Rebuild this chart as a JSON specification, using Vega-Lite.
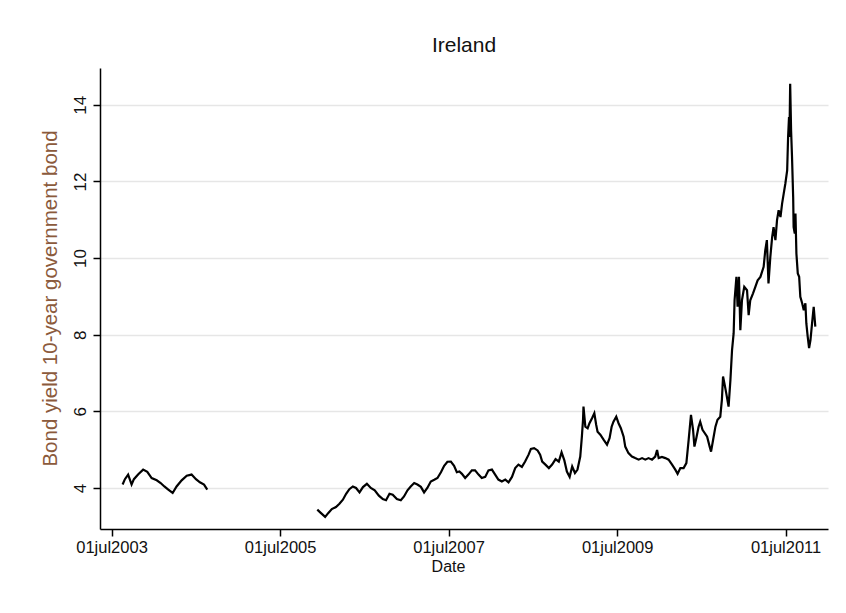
{
  "$schema": "https://vega.github.io/schema/vega-lite/v6.json",
  "width": 728,
  "height": 461,
  "autosize": {"type": "none"},
  "padding": {"left": 100, "top": 68, "right": 18, "bottom": 84},
  "background": "white",
  "title": {"text": "Ireland", "anchor": "middle", "frame": "group", "offset": 12, "font": "Liberation Sans", "fontSize": 21, "fontWeight": "normal", "color": "#111111"},
  "config": {"view": {"stroke": null}, "font": "Liberation Sans"},
  "data": {"values": [
    {"date": "2003-08-18", "y": 4.09, "seg": 1},
    {"date": "2003-08-28", "y": 4.23, "seg": 1},
    {"date": "2003-09-11", "y": 4.35, "seg": 1},
    {"date": "2003-09-26", "y": 4.09, "seg": 1},
    {"date": "2003-10-06", "y": 4.23, "seg": 1},
    {"date": "2003-10-25", "y": 4.36, "seg": 1},
    {"date": "2003-11-15", "y": 4.48, "seg": 1},
    {"date": "2003-12-03", "y": 4.42, "seg": 1},
    {"date": "2003-12-22", "y": 4.26, "seg": 1},
    {"date": "2004-01-13", "y": 4.2, "seg": 1},
    {"date": "2004-01-30", "y": 4.13, "seg": 1},
    {"date": "2004-02-15", "y": 4.04, "seg": 1},
    {"date": "2004-03-03", "y": 3.96, "seg": 1},
    {"date": "2004-03-22", "y": 3.87, "seg": 1},
    {"date": "2004-04-08", "y": 4.04, "seg": 1},
    {"date": "2004-04-30", "y": 4.2, "seg": 1},
    {"date": "2004-05-22", "y": 4.32, "seg": 1},
    {"date": "2004-06-12", "y": 4.35, "seg": 1},
    {"date": "2004-07-01", "y": 4.23, "seg": 1},
    {"date": "2004-07-18", "y": 4.15, "seg": 1},
    {"date": "2004-08-05", "y": 4.09, "seg": 1},
    {"date": "2004-08-19", "y": 3.96, "seg": 1},
    {"date": "2005-12-09", "y": 3.435, "seg": 2},
    {"date": "2005-12-24", "y": 3.35, "seg": 2},
    {"date": "2006-01-12", "y": 3.245, "seg": 2},
    {"date": "2006-01-26", "y": 3.35, "seg": 2},
    {"date": "2006-02-10", "y": 3.45, "seg": 2},
    {"date": "2006-02-28", "y": 3.505, "seg": 2},
    {"date": "2006-03-15", "y": 3.59, "seg": 2},
    {"date": "2006-03-30", "y": 3.695, "seg": 2},
    {"date": "2006-04-13", "y": 3.85, "seg": 2},
    {"date": "2006-04-27", "y": 3.97, "seg": 2},
    {"date": "2006-05-12", "y": 4.04, "seg": 2},
    {"date": "2006-05-26", "y": 4.0, "seg": 2},
    {"date": "2006-06-10", "y": 3.885, "seg": 2},
    {"date": "2006-06-25", "y": 4.025, "seg": 2},
    {"date": "2006-07-12", "y": 4.11, "seg": 2},
    {"date": "2006-07-29", "y": 4.0, "seg": 2},
    {"date": "2006-08-15", "y": 3.94, "seg": 2},
    {"date": "2006-09-02", "y": 3.8, "seg": 2},
    {"date": "2006-09-19", "y": 3.71, "seg": 2},
    {"date": "2006-10-03", "y": 3.68, "seg": 2},
    {"date": "2006-10-18", "y": 3.85, "seg": 2},
    {"date": "2006-11-01", "y": 3.825, "seg": 2},
    {"date": "2006-11-19", "y": 3.71, "seg": 2},
    {"date": "2006-12-06", "y": 3.68, "seg": 2},
    {"date": "2006-12-20", "y": 3.78, "seg": 2},
    {"date": "2007-01-04", "y": 3.94, "seg": 2},
    {"date": "2007-01-18", "y": 4.04, "seg": 2},
    {"date": "2007-02-02", "y": 4.13, "seg": 2},
    {"date": "2007-02-16", "y": 4.09, "seg": 2},
    {"date": "2007-03-03", "y": 4.03, "seg": 2},
    {"date": "2007-03-17", "y": 3.885, "seg": 2},
    {"date": "2007-03-31", "y": 4.0, "seg": 2},
    {"date": "2007-04-15", "y": 4.17, "seg": 2},
    {"date": "2007-04-30", "y": 4.215, "seg": 2},
    {"date": "2007-05-14", "y": 4.26, "seg": 2},
    {"date": "2007-05-29", "y": 4.41, "seg": 2},
    {"date": "2007-06-12", "y": 4.58, "seg": 2},
    {"date": "2007-06-26", "y": 4.685, "seg": 2},
    {"date": "2007-07-11", "y": 4.69, "seg": 2},
    {"date": "2007-07-25", "y": 4.58, "seg": 2},
    {"date": "2007-08-06", "y": 4.41, "seg": 2},
    {"date": "2007-08-17", "y": 4.43, "seg": 2},
    {"date": "2007-08-28", "y": 4.37, "seg": 2},
    {"date": "2007-09-11", "y": 4.26, "seg": 2},
    {"date": "2007-09-25", "y": 4.35, "seg": 2},
    {"date": "2007-10-10", "y": 4.46, "seg": 2},
    {"date": "2007-10-24", "y": 4.46, "seg": 2},
    {"date": "2007-11-08", "y": 4.35, "seg": 2},
    {"date": "2007-11-22", "y": 4.26, "seg": 2},
    {"date": "2007-12-07", "y": 4.29, "seg": 2},
    {"date": "2007-12-21", "y": 4.46, "seg": 2},
    {"date": "2008-01-05", "y": 4.48, "seg": 2},
    {"date": "2008-01-19", "y": 4.35, "seg": 2},
    {"date": "2008-02-02", "y": 4.22, "seg": 2},
    {"date": "2008-02-17", "y": 4.17, "seg": 2},
    {"date": "2008-03-03", "y": 4.22, "seg": 2},
    {"date": "2008-03-17", "y": 4.15, "seg": 2},
    {"date": "2008-04-01", "y": 4.29, "seg": 2},
    {"date": "2008-04-15", "y": 4.52, "seg": 2},
    {"date": "2008-04-29", "y": 4.61, "seg": 2},
    {"date": "2008-05-14", "y": 4.55, "seg": 2},
    {"date": "2008-05-28", "y": 4.69, "seg": 2},
    {"date": "2008-06-12", "y": 4.87, "seg": 2},
    {"date": "2008-06-22", "y": 5.02, "seg": 2},
    {"date": "2008-07-06", "y": 5.04, "seg": 2},
    {"date": "2008-07-21", "y": 4.98, "seg": 2},
    {"date": "2008-08-01", "y": 4.87, "seg": 2},
    {"date": "2008-08-10", "y": 4.69, "seg": 2},
    {"date": "2008-08-24", "y": 4.61, "seg": 2},
    {"date": "2008-09-08", "y": 4.52, "seg": 2},
    {"date": "2008-09-22", "y": 4.61, "seg": 2},
    {"date": "2008-10-07", "y": 4.755, "seg": 2},
    {"date": "2008-10-21", "y": 4.69, "seg": 2},
    {"date": "2008-11-02", "y": 4.93, "seg": 2},
    {"date": "2008-11-14", "y": 4.72, "seg": 2},
    {"date": "2008-11-25", "y": 4.43, "seg": 2},
    {"date": "2008-12-07", "y": 4.29, "seg": 2},
    {"date": "2008-12-18", "y": 4.56, "seg": 2},
    {"date": "2008-12-30", "y": 4.39, "seg": 2},
    {"date": "2009-01-10", "y": 4.48, "seg": 2},
    {"date": "2009-01-22", "y": 4.82, "seg": 2},
    {"date": "2009-01-29", "y": 5.34, "seg": 2},
    {"date": "2009-02-03", "y": 5.78, "seg": 2},
    {"date": "2009-02-05", "y": 6.125, "seg": 2},
    {"date": "2009-02-13", "y": 5.6, "seg": 2},
    {"date": "2009-02-23", "y": 5.56, "seg": 2},
    {"date": "2009-03-03", "y": 5.69, "seg": 2},
    {"date": "2009-03-14", "y": 5.82, "seg": 2},
    {"date": "2009-03-24", "y": 5.95, "seg": 2},
    {"date": "2009-04-01", "y": 5.65, "seg": 2},
    {"date": "2009-04-07", "y": 5.47, "seg": 2},
    {"date": "2009-04-19", "y": 5.39, "seg": 2},
    {"date": "2009-05-03", "y": 5.26, "seg": 2},
    {"date": "2009-05-18", "y": 5.13, "seg": 2},
    {"date": "2009-05-29", "y": 5.3, "seg": 2},
    {"date": "2009-06-07", "y": 5.6, "seg": 2},
    {"date": "2009-06-15", "y": 5.73, "seg": 2},
    {"date": "2009-06-27", "y": 5.86, "seg": 2},
    {"date": "2009-07-07", "y": 5.69, "seg": 2},
    {"date": "2009-07-17", "y": 5.56, "seg": 2},
    {"date": "2009-07-29", "y": 5.34, "seg": 2},
    {"date": "2009-08-05", "y": 5.08, "seg": 2},
    {"date": "2009-08-19", "y": 4.91, "seg": 2},
    {"date": "2009-09-03", "y": 4.82, "seg": 2},
    {"date": "2009-09-17", "y": 4.78, "seg": 2},
    {"date": "2009-10-02", "y": 4.74, "seg": 2},
    {"date": "2009-10-17", "y": 4.78, "seg": 2},
    {"date": "2009-10-31", "y": 4.74, "seg": 2},
    {"date": "2009-11-14", "y": 4.78, "seg": 2},
    {"date": "2009-11-29", "y": 4.74, "seg": 2},
    {"date": "2009-12-13", "y": 4.82, "seg": 2},
    {"date": "2009-12-21", "y": 4.99, "seg": 2},
    {"date": "2009-12-28", "y": 4.78, "seg": 2},
    {"date": "2010-01-11", "y": 4.81, "seg": 2},
    {"date": "2010-01-26", "y": 4.78, "seg": 2},
    {"date": "2010-02-09", "y": 4.74, "seg": 2},
    {"date": "2010-02-24", "y": 4.61, "seg": 2},
    {"date": "2010-03-10", "y": 4.48, "seg": 2},
    {"date": "2010-03-20", "y": 4.37, "seg": 2},
    {"date": "2010-04-01", "y": 4.52, "seg": 2},
    {"date": "2010-04-15", "y": 4.52, "seg": 2},
    {"date": "2010-04-27", "y": 4.65, "seg": 2},
    {"date": "2010-05-07", "y": 5.26, "seg": 2},
    {"date": "2010-05-17", "y": 5.91, "seg": 2},
    {"date": "2010-05-26", "y": 5.52, "seg": 2},
    {"date": "2010-06-01", "y": 5.08, "seg": 2},
    {"date": "2010-06-09", "y": 5.3, "seg": 2},
    {"date": "2010-06-19", "y": 5.6, "seg": 2},
    {"date": "2010-06-26", "y": 5.73, "seg": 2},
    {"date": "2010-07-06", "y": 5.52, "seg": 2},
    {"date": "2010-07-26", "y": 5.34, "seg": 2},
    {"date": "2010-08-06", "y": 5.08, "seg": 2},
    {"date": "2010-08-12", "y": 4.95, "seg": 2},
    {"date": "2010-08-21", "y": 5.26, "seg": 2},
    {"date": "2010-08-31", "y": 5.6, "seg": 2},
    {"date": "2010-09-09", "y": 5.78, "seg": 2},
    {"date": "2010-09-21", "y": 5.86, "seg": 2},
    {"date": "2010-09-28", "y": 6.3, "seg": 2},
    {"date": "2010-10-03", "y": 6.91, "seg": 2},
    {"date": "2010-10-09", "y": 6.73, "seg": 2},
    {"date": "2010-10-17", "y": 6.47, "seg": 2},
    {"date": "2010-10-27", "y": 6.125, "seg": 2},
    {"date": "2010-11-04", "y": 6.82, "seg": 2},
    {"date": "2010-11-11", "y": 7.6, "seg": 2},
    {"date": "2010-11-18", "y": 8.04, "seg": 2},
    {"date": "2010-11-22", "y": 8.9, "seg": 2},
    {"date": "2010-11-30", "y": 9.51, "seg": 2},
    {"date": "2010-12-05", "y": 8.73, "seg": 2},
    {"date": "2010-12-11", "y": 9.51, "seg": 2},
    {"date": "2010-12-17", "y": 8.12, "seg": 2},
    {"date": "2010-12-24", "y": 8.9, "seg": 2},
    {"date": "2011-01-03", "y": 9.25, "seg": 2},
    {"date": "2011-01-15", "y": 9.16, "seg": 2},
    {"date": "2011-01-22", "y": 8.51, "seg": 2},
    {"date": "2011-01-29", "y": 8.9, "seg": 2},
    {"date": "2011-02-10", "y": 9.08, "seg": 2},
    {"date": "2011-02-20", "y": 9.25, "seg": 2},
    {"date": "2011-03-02", "y": 9.42, "seg": 2},
    {"date": "2011-03-14", "y": 9.51, "seg": 2},
    {"date": "2011-03-28", "y": 9.77, "seg": 2},
    {"date": "2011-04-04", "y": 10.2, "seg": 2},
    {"date": "2011-04-11", "y": 10.47, "seg": 2},
    {"date": "2011-04-18", "y": 9.34, "seg": 2},
    {"date": "2011-04-26", "y": 10.03, "seg": 2},
    {"date": "2011-05-04", "y": 10.55, "seg": 2},
    {"date": "2011-05-10", "y": 10.81, "seg": 2},
    {"date": "2011-05-18", "y": 10.47, "seg": 2},
    {"date": "2011-05-25", "y": 10.99, "seg": 2},
    {"date": "2011-06-01", "y": 11.25, "seg": 2},
    {"date": "2011-06-09", "y": 11.07, "seg": 2},
    {"date": "2011-06-16", "y": 11.42, "seg": 2},
    {"date": "2011-06-23", "y": 11.68, "seg": 2},
    {"date": "2011-06-30", "y": 11.94, "seg": 2},
    {"date": "2011-07-08", "y": 12.29, "seg": 2},
    {"date": "2011-07-12", "y": 13.16, "seg": 2},
    {"date": "2011-07-16", "y": 13.68, "seg": 2},
    {"date": "2011-07-18", "y": 13.16, "seg": 2},
    {"date": "2011-07-21", "y": 14.55, "seg": 2},
    {"date": "2011-07-25", "y": 13.33, "seg": 2},
    {"date": "2011-07-29", "y": 12.64, "seg": 2},
    {"date": "2011-08-03", "y": 11.59, "seg": 2},
    {"date": "2011-08-05", "y": 10.81, "seg": 2},
    {"date": "2011-08-10", "y": 10.64, "seg": 2},
    {"date": "2011-08-13", "y": 11.16, "seg": 2},
    {"date": "2011-08-17", "y": 10.12, "seg": 2},
    {"date": "2011-08-23", "y": 9.6, "seg": 2},
    {"date": "2011-08-29", "y": 9.51, "seg": 2},
    {"date": "2011-09-03", "y": 8.99, "seg": 2},
    {"date": "2011-09-11", "y": 8.82, "seg": 2},
    {"date": "2011-09-18", "y": 8.64, "seg": 2},
    {"date": "2011-09-25", "y": 8.82, "seg": 2},
    {"date": "2011-09-29", "y": 8.3, "seg": 2},
    {"date": "2011-10-05", "y": 7.95, "seg": 2},
    {"date": "2011-10-11", "y": 7.65, "seg": 2},
    {"date": "2011-10-17", "y": 7.86, "seg": 2},
    {"date": "2011-10-24", "y": 8.3, "seg": 2},
    {"date": "2011-10-31", "y": 8.73, "seg": 2},
    {"date": "2011-11-07", "y": 8.21, "seg": 2}
  ]},
  "mark": {"type": "line", "color": "#000000", "strokeWidth": 2.2, "strokeJoin": "miter"},
  "encoding": {
    "x": {
      "field": "date",
      "type": "temporal",
      "scale": {"type": "utc", "domain": [{"year": 2003, "month": 5, "date": 12, "utc": true}, {"year": 2012, "month": 1, "date": 1, "utc": true}], "nice": false},
      "axis": {
        "title": "Date",
        "values": [
          {"year": 2003, "month": 7, "date": 1, "utc": true},
          {"year": 2005, "month": 7, "date": 1, "utc": true},
          {"year": 2007, "month": 7, "date": 1, "utc": true},
          {"year": 2009, "month": 7, "date": 1, "utc": true},
          {"year": 2011, "month": 7, "date": 1, "utc": true}
        ],
        "labelExpr": "lower(utcFormat(datum.value, '%d%b%Y'))",
        "grid": false,
        "domainColor": "#000000",
        "domainWidth": 1.5,
        "tickColor": "#000000",
        "tickWidth": 1.5,
        "tickSize": 7,
        "labelPadding": 3,
        "labelFont": "Liberation Sans",
        "labelFontSize": 16.5,
        "labelColor": "#111111",
        "labelFlush": false,
        "labelOverlap": false,
        "titleFont": "Liberation Sans",
        "titleFontSize": 16,
        "titleFontWeight": "normal",
        "titleColor": "#111111",
        "titleX": 348,
        "titleY": 37,
        "titleBaseline": "middle",
        "titleAlign": "center"
      }
    },
    "y": {
      "field": "y",
      "type": "quantitative",
      "scale": {"domain": [2.93, 14.96], "nice": false, "zero": false},
      "axis": {
        "title": "Bond yield  10-year government bond",
        "values": [4, 6, 8, 10, 12, 14],
        "grid": true,
        "gridColor": "#e6e6e6",
        "gridWidth": 1.5,
        "domainColor": "#000000",
        "domainWidth": 1.5,
        "tickColor": "#000000",
        "tickWidth": 1.5,
        "tickSize": 7,
        "labelAngle": 270,
        "labelAlign": "center",
        "labelBaseline": "bottom",
        "labelPadding": 4,
        "labelFont": "Liberation Sans",
        "labelFontSize": 17,
        "labelColor": "#111111",
        "titleFont": "Liberation Sans",
        "titleFontSize": 20.5,
        "titleFontWeight": "normal",
        "titleColor": "#8b5a3c",
        "titleAngle": 270,
        "titleX": -50,
        "titleY": 230,
        "titleAlign": "center",
        "titleBaseline": "middle"
      }
    },
    "detail": {"field": "seg", "type": "nominal"}
  }
}
